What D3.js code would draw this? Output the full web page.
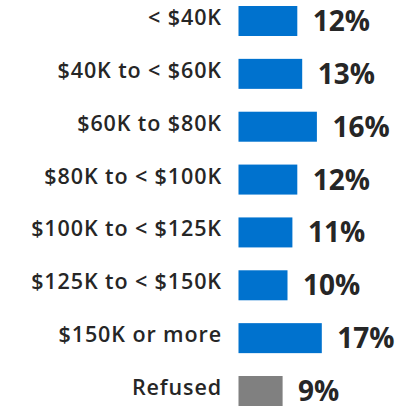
<!DOCTYPE html>
<html><head><meta charset="utf-8">
<script src="https://cdn.jsdelivr.net/npm/d3@7"></script>
<style>
html,body{margin:0;padding:0;background:#fff;}
text{font-family:"Open Sans",sans-serif;font-weight:700;}
</style></head><body>
<svg id="c" width="405" height="407"></svg>
<script>
const categories = ["< $40K","$40K to < $60K","$60K to $80K","$80K to < $100K","$100K to < $125K","$125K to < $150K","$150K or more","Refused"];
const values = [12,13,16,12,11,10,17,9];
const colors = ["#0072CE","#0072CE","#0072CE","#0072CE","#0072CE","#0072CE","#0072CE","#808080"];

const svg = d3.select("#c");
const x = d3.scaleLinear().domain([0,20]).range([238.5,336.5]);
const y = d3.scaleBand().domain(categories).range([6,406]).paddingInner(0.4325).paddingOuter(0);

const g = svg.append("g");
g.selectAll("rect").data(categories).join("rect")
  .attr("x", x(0)).attr("y", d=>y(d))
  .attr("width", (d,i)=>x(values[i])-x(0)).attr("height", y.bandwidth())
  .attr("fill", (d,i)=>colors[i]);

g.selectAll("text.cat").data(categories).join("text").attr("class","cat")
  .attr("x", 222).attr("y", d=>y(d)+y.bandwidth()/2+4)
  .attr("text-anchor","end").attr("fill","#262626").style("font-size","21.5px")
  .style("font-weight","600")
  .style("letter-spacing","0.9px")
  .text(d=>d);

g.selectAll("text.val").data(categories).join("text").attr("class","val")
  .attr("x", (d,i)=>x(values[i])+15.5).attr("y", d=>y(d)+y.bandwidth()/2+10)
  .attr("fill","#262626").style("font-size","28px")
  .text((d,i)=>values[i]+"%");
</script></body></html>
